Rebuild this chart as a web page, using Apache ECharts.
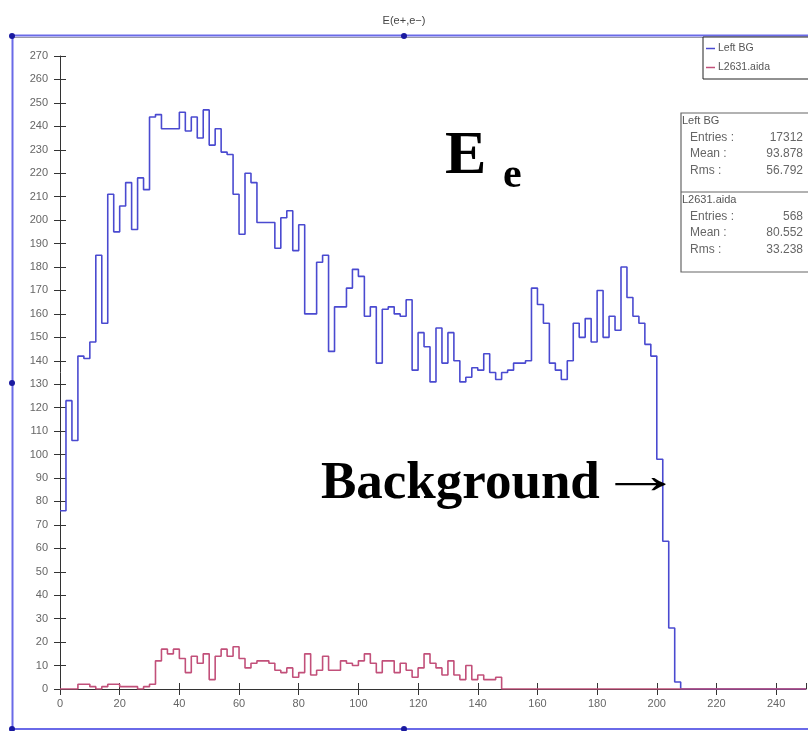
<!DOCTYPE html>
<html>
<head>
<meta charset="utf-8">
<script src="https://cdn.jsdelivr.net/npm/echarts@6/dist/echarts.min.js"></script>
<style>
html,body{margin:0;padding:0;background:#fff;}
#chart{width:808px;height:731px;}
</style>
</head>
<body>
<div id="chart"></div>
<script>
// ---- data ----
const binWidth = 2;              // histogram bin width (x units)
const xAxisEnd = 250;            // end of the x range
const xTickLabels = [0, 20, 40, 60, 80, 100, 120, 140, 160, 180, 200, 220, 240];
const yTickLabels = [0,10,20,30,40,50,60,70,80,90,100,110,120,130,140,150,160,170,180,190,200,210,220,230,240,250,260,270];
const seriesNames = ['Left BG', 'L2631.aida'];
// Left BG counts, bins of width 2 starting at 0
const leftBG = [
  76,123,106,142,141,148,185,156,211,195,
  206,216,196,218,213,244,245,239,239,239,
  246,238,244,235,247,232,239,229,228,211,
  194,220,216,199,199,199,188,201,204,187,
  198,160,160,182,185,144,163,163,171,179,
  176,159,163,139,162,163,160,159,166,136,
  152,146,131,154,139,152,140,131,133,137,
  136,143,135,132,135,136,139,139,140,171,
  164,156,139,136,132,140,156,150,158,148,
  170,150,159,153,180,167,159,156,147,142,
  98,63,26,3
];
// L2631.aida counts, bins of width 2 starting at 0
const l2631 = [
  0,0,0,2,2,1,0,1,2,2,
  1,1,1,0,1,2,12,17,15,17,
  13,7,14,11,15,4,14,17,14,18,
  13,9,11,12,12,11,8,7,9,5,
  7,15,6,8,14,8,8,12,11,10,
  12,15,11,7,12,12,7,11,8,5,
  9,15,11,9,6,12,6,4,10,4,
  6,4,4,5
];
const titleText = 'E(e+,e\u2212)';
const statsBlocks = [
  { name: 'Left BG', rows: [['Entries :', '17312'], ['Mean :', '93.878'], ['Rms :', '56.792']] },
  { name: 'L2631.aida', rows: [['Entries :', '568'], ['Mean :', '80.552'], ['Rms :', '33.238']] }
];
const noteE = 'E';
const noteSub = 'e';
const noteBg = 'Background';
const noteArrow = '\u2192';

// ---- build ----
function histData(counts) {
  const d = counts.map((c, k) => [k * binWidth, c]);
  d.push([counts.length * binWidth, 0]);
  d.push([xAxisEnd, 0]);
  return d;
}
const xInterval = xTickLabels[1] - xTickLabels[0];
const yInterval = yTickLabels[1] - yTickLabels[0];
const yMax = yTickLabels[yTickLabels.length - 1];

const chart = echarts.init(document.getElementById('chart'), null, { renderer: 'canvas' });

const blueFrame = '#6a6ae8';
const dotColor = '#1a1aa0';
const serif = '"Liberation Serif", "Times New Roman", serif';
const sans = '"Liberation Sans", Arial, sans-serif';

const graphics = [];
// selection frame
graphics.push({ type: 'line', shape: { x1: 10, y1: 35.5, x2: 808, y2: 35.5 }, style: { stroke: blueFrame, lineWidth: 2 }, silent: true });
graphics.push({ type: 'line', shape: { x1: 14, y1: 37.5, x2: 808, y2: 37.5 }, style: { stroke: '#9a9aa8', lineWidth: 1 }, silent: true });
graphics.push({ type: 'line', shape: { x1: 12.5, y1: 36, x2: 12.5, y2: 731 }, style: { stroke: blueFrame, lineWidth: 2 }, silent: true });
graphics.push({ type: 'line', shape: { x1: 10, y1: 729, x2: 808, y2: 729 }, style: { stroke: blueFrame, lineWidth: 2 }, silent: true });
[[12, 36], [404, 36], [12, 383], [12, 729], [404, 729]].forEach(p => {
  graphics.push({ type: 'circle', shape: { cx: p[0], cy: p[1], r: 3 }, style: { fill: dotColor }, silent: true });
});
// stats box
const sbX = 681, sbY = 113, sbW = 140, sbRow = 16.5;
graphics.push({ type: 'rect', shape: { x: sbX, y: sbY, width: sbW, height: 159 }, style: { fill: '#fff', stroke: '#666', lineWidth: 1.2 }, z: 10 });
graphics.push({ type: 'line', shape: { x1: sbX, y1: 192, x2: 808, y2: 192 }, style: { stroke: '#666', lineWidth: 1.2 }, z: 11 });
statsBlocks.forEach((blk, bi) => {
  const y0 = bi === 0 ? 115 : 194;
  graphics.push({ type: 'text', left: sbX + 1, top: y0, style: { text: blk.name, fill: '#555', font: '11px ' + sans }, z: 12 });
  blk.rows.forEach((r, ri) => {
    graphics.push({ type: 'text', left: sbX + 9, top: y0 + sbRow * (ri + 1), style: { text: r[0], fill: '#666', font: '12px ' + sans }, z: 12 });
    graphics.push({ type: 'text', style: { x: 803, y: y0 + sbRow * (ri + 1), text: r[1], fill: '#666', font: '12px ' + sans, textAlign: 'right', textVerticalAlign: 'top' }, z: 12 });
  });
});
// annotations
graphics.push({ type: 'text', left: 445, top: 126, style: { text: noteE, fill: '#000', font: 'bold 62px ' + serif }, z: 12 });
graphics.push({ type: 'text', left: 503, top: 155, style: { text: noteSub, fill: '#000', font: 'bold 42px ' + serif }, z: 12 });
graphics.push({ type: 'text', left: 321, top: 458, style: { text: noteBg, fill: '#000', font: 'bold 53px ' + serif }, z: 12 });
graphics.push({ type: 'text', left: 598, top: 453, scaleX: 1.6, style: { text: noteArrow, fill: '#000', font: '53px ' + serif }, z: 12 });

const axisColor = '#333';
const labelStyle = { color: '#666', fontSize: 11, fontFamily: sans };

const option = {
  animation: false,
  backgroundColor: '#fff',
  title: {
    text: titleText, left: 'center', top: 10,
    textStyle: { fontSize: 11, fontWeight: 'normal', color: '#444', fontFamily: sans }
  },
  legend: {
    data: seriesNames,
    orient: 'vertical',
    left: 703, top: 37,
    icon: 'rect', itemWidth: 9, itemHeight: 1.5, itemGap: 8,
    padding: [6, 40, 6, 3],
    borderColor: '#222', borderWidth: 1,
    backgroundColor: '#fff',
    textStyle: { fontSize: 10.5, color: '#555', fontFamily: sans, padding: [0, 0, 0, -2] }
  },
  grid: { left: 60, right: 2, top: 56, bottom: 42 },
  xAxis: [
    {
      type: 'value', min: xTickLabels[0], max: xAxisEnd, interval: xInterval,
      axisLine: { show: true, onZero: false, lineStyle: { color: axisColor, width: 1 } },
      axisTick: { show: true, inside: false, length: 6, lineStyle: { color: axisColor } },
      axisLabel: Object.assign({ margin: 9, showMaxLabel: false }, labelStyle),
      splitLine: { show: false }
    },
    {
      type: 'value', min: xTickLabels[0], max: xAxisEnd, interval: xInterval, position: 'bottom',
      axisLine: { show: false },
      axisTick: { show: true, inside: true, length: 6, lineStyle: { color: axisColor } },
      axisLabel: { show: false }, splitLine: { show: false }
    }
  ],
  yAxis: [
    {
      type: 'value', min: yTickLabels[0], max: yMax, interval: yInterval,
      axisLine: { show: true, onZero: false, lineStyle: { color: axisColor, width: 1 } },
      axisTick: { show: true, inside: false, length: 6, lineStyle: { color: axisColor } },
      axisLabel: Object.assign({ margin: 12 }, labelStyle),
      splitLine: { show: false }
    },
    {
      type: 'value', min: yTickLabels[0], max: yMax, interval: yInterval, position: 'left',
      axisLine: { show: false },
      axisTick: { show: true, inside: true, length: 6, lineStyle: { color: axisColor } },
      axisLabel: { show: false }, splitLine: { show: false }
    }
  ],
  series: [
    {
      name: seriesNames[0], type: 'line', step: 'end', showSymbol: false, symbol: 'none',
      data: histData(leftBG),
      lineStyle: { color: '#4a4ad0', width: 1.6 },
      itemStyle: { color: '#4a4ad0' }, z: 3
    },
    {
      name: seriesNames[1], type: 'line', step: 'end', showSymbol: false, symbol: 'none',
      data: histData(l2631),
      lineStyle: { color: '#c2507a', width: 1.6 },
      itemStyle: { color: '#c2507a' }, z: 4
    }
  ],
  graphic: graphics
};
chart.setOption(option);
</script>
</body>
</html>
